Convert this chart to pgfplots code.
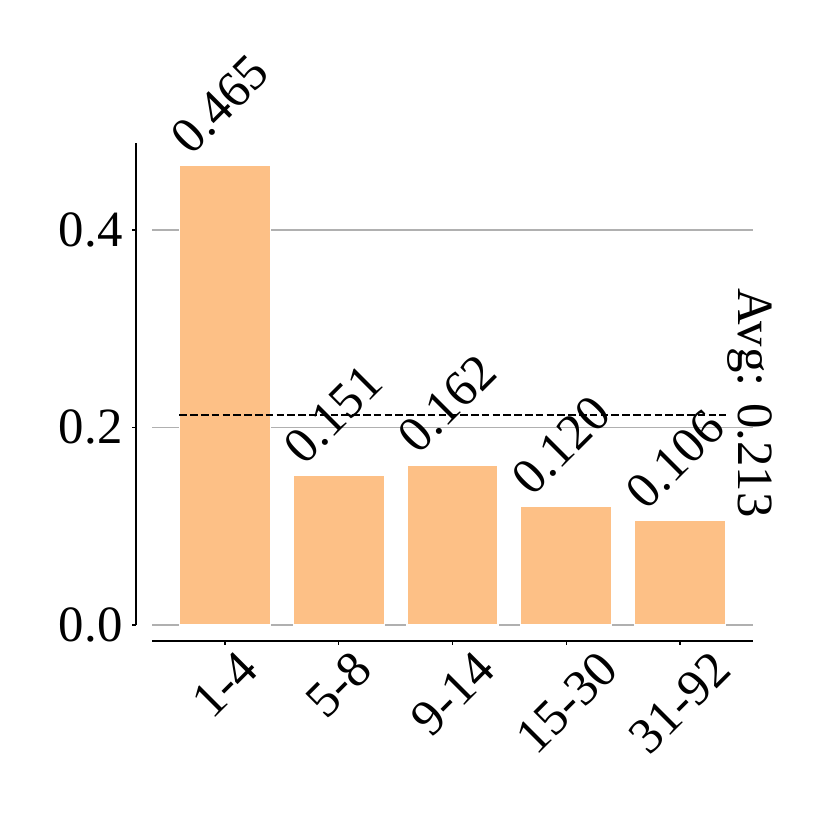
\documentclass[border=0pt]{standalone}
\usepackage{fontspec}
\setmainfont{Liberation Serif}
\usepackage{graphicx}
\usepackage{pgfplots}
\pgfplotsset{compat=1.18}
\definecolor{barorange}{HTML}{FDC086}
\definecolor{gridgray}{HTML}{B0B0B0}
\pgfplotsset{/pgf/number format/assume math mode=true}

\begin{document}
\begin{tikzpicture}[font=\fontsize{12.7}{15}\selectfont]
\useasboundingbox (-38pt,-51.25pt) rectangle (169.5pt,156.25pt);
\begin{axis}[
    scale only axis,
    width=150.25pt,
    height=120.5pt,
    xmin=-0.64, xmax=4.64,
    ymin=0, ymax=0.488,
    axis x line=bottom,
    axis y line=left,
    axis line style={-, black, line width=0.35pt},
    axis x line shift=4pt,
    axis y line shift=4pt,
    tick align=outside,
    major tick length=1pt,
    tick style={black, line width=0.35pt},
    xtick={0,1,2,3,4},
    xticklabels={\rotatebox{45}{1-4}, \rotatebox{45}{5-8}, \rotatebox{45}{9-14},
                 \rotatebox{45}{15-30}, \rotatebox{45}{31-92}},
    xticklabel style={anchor=north, inner sep=0pt, yshift=-0.8pt},
    ytick={0,0.2,0.4},
    yticklabel style={anchor=east, inner sep=0pt, xshift=-2.2pt,
        /pgf/number format/fixed, /pgf/number format/zerofill,
        /pgf/number format/precision=1},
    ymajorgrids=true,
    grid style={gridgray, line width=0.35pt},
    clip=false,
]
% bars
\addplot[ybar, bar width=0.8, fill=barorange, draw=white, line width=0.3pt,
    nodes near coords={\rotatebox{45}{\pgfmathprintnumber[fixed,zerofill,precision=3]{\pgfplotspointmeta}}},
    every node near coord/.append style={anchor=south, inner sep=0pt, yshift=2pt, xshift=-1.25pt}]
    coordinates {(0,0.465) (1,0.151) (2,0.162) (3,0.120) (4,0.106)};
% average line
\addplot[black, line width=0.5pt, dash pattern=on 1.9pt off 0.8pt]
    coordinates {(-0.4,0.213) (4.4,0.213)};
\node[rotate=-90, inner sep=0pt] at (axis cs:4.61,0.2245) {Avg: 0.213};
\end{axis}
\end{tikzpicture}
\end{document}
